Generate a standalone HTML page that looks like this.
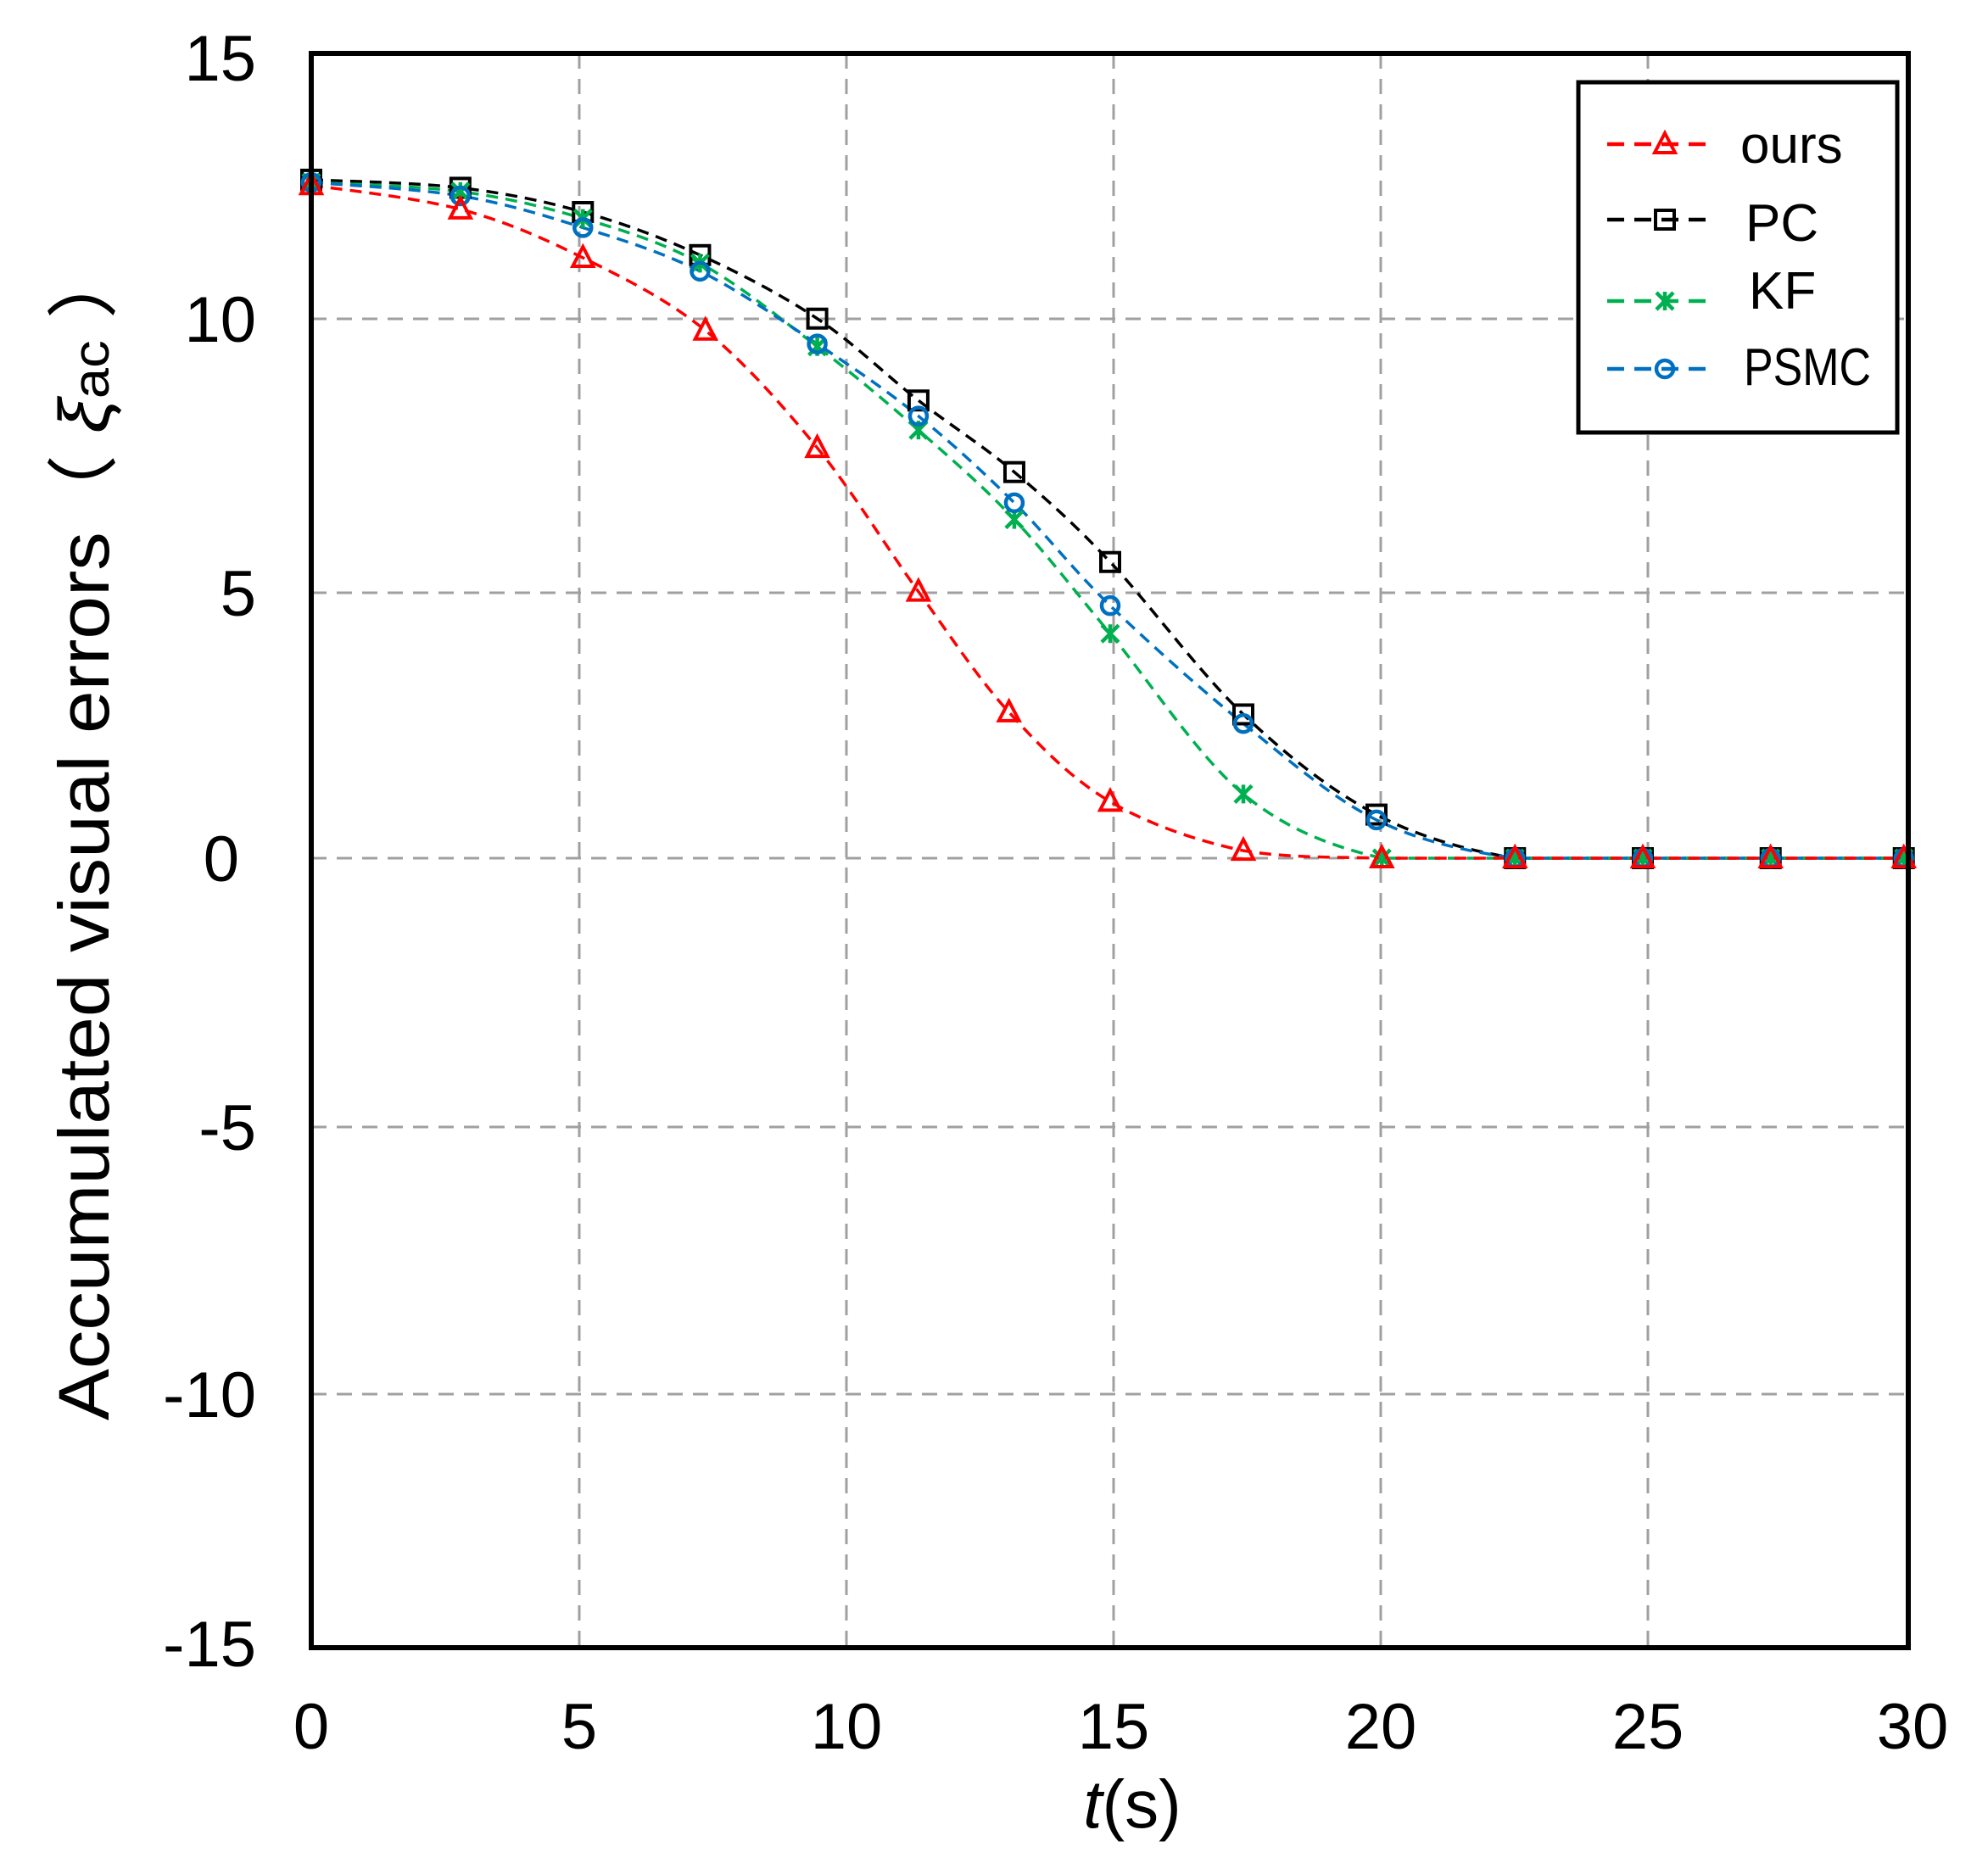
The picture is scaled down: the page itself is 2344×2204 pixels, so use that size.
<!DOCTYPE html>
<html><head><meta charset="utf-8"><style>
html,body{margin:0;padding:0;background:#fff;}
svg{display:block;}
text{font-family:"Liberation Sans","Noto Sans CJK SC",sans-serif;fill:#000;}
</style></head><body>
<svg id="s" width="2344" height="2204" viewBox="0 0 2344 2204" xmlns="http://www.w3.org/2000/svg">
<rect width="2344" height="2204" fill="#fff"/>
<g id="grid" stroke="#a0a0a0" stroke-width="3" stroke-dasharray="18,12" fill="none">
<line x1="683" y1="63" x2="683" y2="1943"/>
<line x1="998" y1="63" x2="998" y2="1943"/>
<line x1="1313" y1="63" x2="1313" y2="1943"/>
<line x1="1628" y1="63" x2="1628" y2="1943"/>
<line x1="1943" y1="63" x2="1943" y2="1943"/>
<line x1="367" y1="376" x2="2250" y2="376"/>
<line x1="367" y1="699" x2="2250" y2="699"/>
<line x1="367" y1="1012" x2="2250" y2="1012"/>
<line x1="367" y1="1329" x2="2250" y2="1329"/>
<line x1="367" y1="1644" x2="2250" y2="1644"/>
</g>
<g id="series"></g>
<rect x="367" y="63" width="1883" height="1880" fill="none" stroke="#000" stroke-width="6"/>
<g font-size="76" text-anchor="end">
<text x="302" y="95">15</text>
<text x="302" y="403">10</text>
<text x="302" y="726">5</text>
<text x="282" y="1039">0</text>
<text x="302" y="1356">-5</text>
<text x="302" y="1671">-10</text>
<text x="302" y="1965">-15</text>
</g>
<g font-size="76" text-anchor="middle">
<text x="367" y="2062">0</text>
<text x="683" y="2062">5</text>
<text x="998" y="2062">10</text>
<text x="1313" y="2062">15</text>
<text x="1628" y="2062">20</text>
<text x="1943" y="2062">25</text>
<text x="2255" y="2062">30</text>
</g>
<text x="1335" y="2155" font-size="80" text-anchor="middle"><tspan font-style="italic">t</tspan>(s)</text>
<text transform="translate(128,980) rotate(-90)" font-size="84" text-anchor="middle" textLength="1390" lengthAdjust="spacingAndGlyphs">Accumulated visual errors（ <tspan font-style="italic">ξ</tspan><tspan font-size="60">ac</tspan> ）</text>
<rect x="1861" y="97" width="376" height="413" fill="#fff" stroke="#000" stroke-width="5"/>
<g id="leg"></g>
<g font-size="62">
<text x="2052" y="192">ours</text>
<text x="2058" y="284">PC</text>
<text x="2062" y="364">KF</text>
<text x="2056" y="454" textLength="150" lengthAdjust="spacingAndGlyphs">PSMC</text>
</g>
</svg>
<script>
var X=function(t){return 367+62.8*t;}, Y=function(v){return 1012-63.5*v;};
var T=[0,2.8,5.1,7.4,9.5,11.4,13.1,15,17.5,20.1,22.6,25,27.4,29.9];
var S=[
 {c:"#000000",m:"sq",t:[0,2.8,5.1,7.3,9.5,11.4,13.2,15,17.5,20,22.6,25,27.4,29.9],v:[12.6,12.45,12.0,11.2,10.02,8.5,7.17,5.5,2.67,0.81,0,0,0,0]},
 {c:"#00b050",m:"x",t:[0,2.8,5.1,7.3,9.5,11.4,13.2,15,17.5,20.1,22.6,25,27.4,29.9],v:[12.55,12.38,11.88,11.05,9.5,7.95,6.29,4.17,1.19,0,0,0,0,0]},
 {c:"#0070c0",m:"o",t:[0,2.8,5.1,7.3,9.5,11.4,13.2,15,17.5,20,22.6,25,27.4,29.9],v:[12.55,12.3,11.71,10.9,9.55,8.21,6.6,4.69,2.5,0.71,0,0,0,0]},
 {c:"#ff0000",m:"tri",t:T,v:[12.5,12.05,11.15,9.8,7.62,4.95,2.71,1.05,0.14,0,0,0,0,0]}
];
var NS="http://www.w3.org/2000/svg";
function el(n,a,p){var e=document.createElementNS(NS,n);for(var k in a)e.setAttribute(k,a[k]);p.appendChild(e);return e;}
function marker(g,m,x,y,c){
 if(m=="tri")el("path",{d:"M"+x+","+(y-13)+"L"+(x+12)+","+(y+10)+"L"+(x-12)+","+(y+10)+"Z",fill:"none",stroke:c,"stroke-width":4},g);
 else if(m=="sq")el("rect",{x:x-11,y:y-11,width:22,height:22,fill:"none",stroke:c,"stroke-width":4},g);
 else if(m=="x"){el("path",{d:"M"+(x-10)+","+(y-10)+"L"+(x+10)+","+(y+10)+"M"+(x+10)+","+(y-10)+"L"+(x-10)+","+(y+10)+"M"+x+","+(y-11)+"L"+x+","+(y+11),stroke:c,"stroke-width":4.5},g);}
 else el("circle",{cx:x,cy:y,r:10,fill:"none",stroke:c,"stroke-width":4.5},g);
}
var G=document.getElementById("series");
S.forEach(function(s){
 var p=s.t.map(function(t,i){return [X(t),Y(s.v[i])];});
 var d="M"+p[0][0]+","+p[0][1];
 for(var i=0;i<p.length-1;i++){
  var p0=p[i-1]||p[i],p1=p[i],p2=p[i+1],p3=p[i+2]||p2;
  var c1=[p1[0]+(p2[0]-p0[0])/6,p1[1]+(p2[1]-p0[1])/6],c2=[p2[0]-(p3[0]-p1[0])/6,p2[1]-(p3[1]-p1[1])/6];
  if(s.v[i]==0&&s.v[i+1]==0){c1=[p1[0],p1[1]];c2=[p2[0],p2[1]];}
  if(c1[1]>Y(0))c1[1]=Y(0); if(c2[1]>Y(0))c2[1]=Y(0);
  d+="C"+c1+" "+c2+" "+p2;
 }
 el("path",{d:d,fill:"none",stroke:s.c,"stroke-width":3.5,"stroke-dasharray":"14,9"},G);
});
S.forEach(function(s){s.t.forEach(function(t,i){marker(G,s.m,X(t),Y(s.v[i]),s.c);});});
var L=document.getElementById("leg"),ly={"#ff0000":170,"#000000":259,"#00b050":355,"#0070c0":435};
S.forEach(function(s){
 el("line",{x1:1895,y1:ly[s.c],x2:2017,y2:ly[s.c],stroke:s.c,"stroke-width":4.5,"stroke-dasharray":"20,12"},L);
 marker(L,s.m,1963,ly[s.c],s.c);
});
</script>
</body></html>
